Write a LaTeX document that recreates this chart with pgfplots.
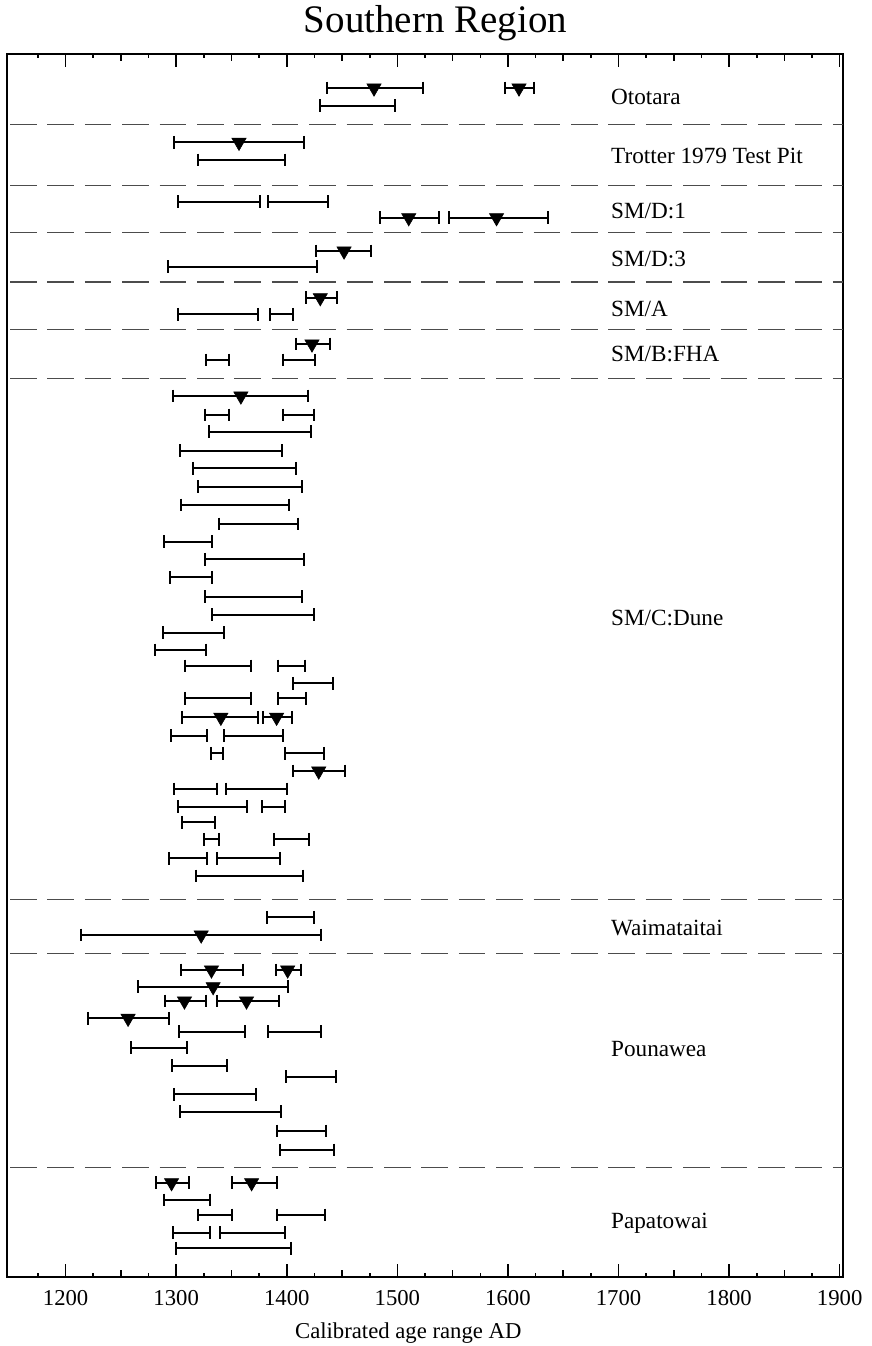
\documentclass[border=0pt]{standalone}
\usepackage{fontspec}
\setmainfont{Liberation Serif}
\usepackage{pgfplots}
\usepackage{pgfplotstable}
\pgfplotsset{compat=1.18}
\usetikzlibrary{calc}

% calibrated age ranges: each range is two rows (start, end) at its row position y; nan rows separate ranges
\pgfplotstableread{
x y
1436 88
1523 88
nan nan
1597 88
1624 88
nan nan
1430 105.7
1498 105.7
nan nan
1298 142.3
1416 142.3
nan nan
1320 160
1398 160
nan nan
1301.5 201.7
1375.5 201.7
nan nan
1383 201.7
1437 201.7
nan nan
1484 217.7
1538 217.7
nan nan
1547 217.7
1636 217.7
nan nan
1426 251
1476 251
nan nan
1293 266.7
1427 266.7
nan nan
1417 297.7
1445 297.7
nan nan
1302 314.3
1374 314.3
nan nan
1385 314.3
1406 314.3
nan nan
1408.6 344
1439.4 344
nan nan
1327.4 360
1347.6 360
nan nan
1396.3 360
1425.9 360
nan nan
1297.5 396
1418.9 396
nan nan
1325.6 415
1347.9 415
nan nan
1396.3 415
1424.3 415
nan nan
1329.5 431.7
1421.9 431.7
nan nan
1303 450.7
1395.7 450.7
nan nan
1315.6 468.3
1408.6 468.3
nan nan
1319.3 486.7
1413.8 486.7
nan nan
1304.6 505
1401.7 505
nan nan
1338.6 524
1410.4 524
nan nan
1289.4 541.7
1332.6 541.7
nan nan
1326.5 559.3
1415.9 559.3
nan nan
1294.5 577.3
1332.6 577.3
nan nan
1326.5 596.7
1414.1 596.7
nan nan
1332.6 614.5
1425 614.5
nan nan
1287.9 632.7
1342.8 632.7
nan nan
1280.9 650
1327.1 650
nan nan
1307.6 666
1367.7 666
nan nan
1392.1 666
1416.8 666
nan nan
1405.6 683.3
1441.5 683.3
nan nan
1307.8 698.3
1367.9 698.3
nan nan
1392.4 698.3
1417.4 698.3
nan nan
1305.1 717.3
1374.3 717.3
nan nan
1378.7 717.3
1405 717.3
nan nan
1295.7 735.7
1327.7 735.7
nan nan
1342.8 735.7
1396.3 735.7
nan nan
1331.3 753.3
1342.2 753.3
nan nan
1398.7 753.3
1434 753.3
nan nan
1405.9 771
1453 771
nan nan
1297.8 789
1336.8 789
nan nan
1344.6 789
1400.2 789
nan nan
1301.4 806.7
1364.2 806.7
nan nan
1377.6 806.7
1398.7 806.7
nan nan
1305.1 822.3
1334.7 822.3
nan nan
1325 839.3
1338.9 839.3
nan nan
1388.4 839.3
1420.4 839.3
nan nan
1293.3 858.3
1328.3 858.3
nan nan
1336.8 858.3
1393.5 858.3
nan nan
1318.3 876
1414.9 876
nan nan
1382.4 917.3
1424.3 917.3
nan nan
1213.9 935
1431.3 935
nan nan
1303.9 970
1360.3 970
nan nan
1390.5 970
1413.2 970
nan nan
1265.2 986.7
1401.4 986.7
nan nan
1290 1001
1326.8 1001
nan nan
1337.1 1001
1393 1001
nan nan
1220.5 1018.3
1293.6 1018.3
nan nan
1302.7 1031.7
1362.5 1031.7
nan nan
1383 1031.7
1431 1031.7
nan nan
1258.9 1047.7
1309.6 1047.7
nan nan
1296.6 1065.7
1345.8 1065.7
nan nan
1399.3 1076.7
1444.6 1076.7
nan nan
1298.4 1094.3
1371.8 1094.3
nan nan
1303.6 1111.7
1394.7 1111.7
nan nan
1391.1 1131
1435.2 1131
nan nan
1393.5 1150
1442.8 1150
nan nan
1282.1 1182.7
1311.7 1182.7
nan nan
1350.1 1182.7
1390.9 1182.7
nan nan
1288.8 1200
1331 1200
nan nan
1319.9 1215
1350.4 1215
nan nan
1390.9 1215
1434.7 1215
nan nan
1297.2 1232.7
1331 1232.7
nan nan
1339.6 1232.7
1398.1 1232.7
nan nan
1299.6 1248.3
1403.5 1248.3
}\bars

% intercept markers
\pgfplotstableread{
x y
1478.9 88
1610 88
1356.8 142.3
1510.3 217.7
1589.7 217.7
1451.8 251
1430.3 297.7
1422.8 344
1358.5 396
1340.4 717.3
1390.8 717.3
1428.9 771
1322.6 935
1331.9 970
1400.8 970
1333.4 986.7
1307.5 1001
1363.6 1001
1256.5 1018.3
1295.8 1182.7
1368.2 1182.7
}\marks

\begin{document}
\begin{tikzpicture}
\begin{axis}[
  scale only axis, width=418pt, height=611.5pt,
  xmin=1147, xmax=1903, ymin=54, ymax=1277, y dir=reverse,
  ytick=\empty,
  xtick={1200,1300,...,1900},
  minor xtick={1175,1225,...,1875},
  extra x ticks={1250,1350,...,1850},
  extra x tick labels={},
  extra x tick style={major tick length=3.5pt},
  major tick length=6.5pt, minor tick length=2pt,
  tick align=inside, xtick pos=both,
  tick style={black, line width=0.8pt},
  axis line style={line width=1.1pt},
  /pgf/number format/assume math mode=true,
  /pgf/number format/1000 sep={},
  ticklabel style={font=\fontsize{11.35}{13}\selectfont},
  xticklabel style={yshift=-3pt},
  xlabel={Calibrated age range AD},
  xlabel style={at={(axis description cs:0.48,0)}, anchor=base, yshift=-30.65pt, font=\fontsize{11.35}{13}\selectfont},
  title={Southern Region},
  title style={at={(axis description cs:0.5126,1)}, anchor=base, yshift=5pt, font=\fontsize{19.5}{21}\selectfont},
  clip=false,
  unbounded coords=jump,
]
\pgfplotsinvokeforeach{124.3,185.3,232.7,282,329.3,378.3,899.3,953.3,1167.7}{
  \draw[black!70, line width=0.7pt, dash pattern=on 13.3pt off 5.4pt, dash phase=17.2pt] (axis cs:1147,#1) -- (axis cs:1903,#1);
}
\addplot [black, line width=1pt, mark=|, mark size=3.2pt,
  mark options={solid, line width=1pt}]
  table [x=x, y=y] {\bars};
\addplot [only marks, mark=triangle*, mark size=4.1pt,
  mark options={rotate=180, fill=black, draw=black, line width=0.3pt}]
  table [x=x, y=y] {\marks};
\node[anchor=base west, inner sep=0pt, font=\fontsize{11.6}{13}\selectfont] at (axis cs:1693,104) {Ototara};
\node[anchor=base west, inner sep=0pt, font=\fontsize{11.6}{13}\selectfont] at (axis cs:1693,163.3) {Trotter 1979 Test Pit};
\node[anchor=base west, inner sep=0pt, font=\fontsize{11.6}{13}\selectfont] at (axis cs:1693,218.3) {SM/D:1};
\node[anchor=base west, inner sep=0pt, font=\fontsize{11.6}{13}\selectfont] at (axis cs:1693,266) {SM/D:3};
\node[anchor=base west, inner sep=0pt, font=\fontsize{11.6}{13}\selectfont] at (axis cs:1693,316.7) {SM/A};
\node[anchor=base west, inner sep=0pt, font=\fontsize{11.6}{13}\selectfont] at (axis cs:1693,361.7) {SM/B:FHA};
\node[anchor=base west, inner sep=0pt, font=\fontsize{11.6}{13}\selectfont] at (axis cs:1693,625) {SM/C:Dune};
\node[anchor=base west, inner sep=0pt, font=\fontsize{11.6}{13}\selectfont] at (axis cs:1693,935) {Waimataitai};
\node[anchor=base west, inner sep=0pt, font=\fontsize{11.6}{13}\selectfont] at (axis cs:1693,1056.7) {Pounawea};
\node[anchor=base west, inner sep=0pt, font=\fontsize{11.6}{13}\selectfont] at (axis cs:1693,1228.3) {Papatowai};
\end{axis}
\pgfresetboundingbox
\path[use as bounding box] ($(current axis.south west)+(-3.5pt,-34.5pt)$) rectangle ($(current axis.north east)+(14pt,27pt)$);
\end{tikzpicture}
\end{document}
